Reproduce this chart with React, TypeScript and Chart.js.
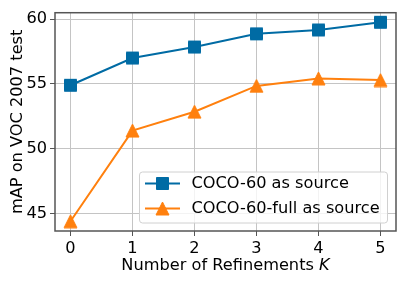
import React, { useEffect, useRef } from 'react';
import { Chart, registerables } from 'chart.js';
Chart.register(...registerables);

const refinements = [0, 1, 2, 3, 4, 5];
const coco60 = [54.9, 57.0, 57.85, 58.87, 59.17, 59.76];
const coco60full = [44.4, 51.4, 52.86, 54.85, 55.43, 55.3];
const yTicks = [45, 50, 55, 60];
const seriesLabels = ['COCO-60 as source', 'COCO-60-full as source'];
const seriesColors = ['#006BA4', '#FF800E'];
const xTitleMain = 'Number of Refinements ';
const xTitleVar = 'K';
const yTitle = 'mAP on VOC 2007 test';

const FONT = 'DejaVu Sans';
const FS = 16.2;

function makeMarker(kind: 'square' | 'triangle', color: string): HTMLCanvasElement {
  const c = document.createElement('canvas');
  c.width = 15;
  c.height = 15;
  const g = c.getContext('2d')!;
  g.fillStyle = color;
  g.strokeStyle = color;
  g.lineWidth = 1;
  g.beginPath();
  if (kind === 'square') {
    g.rect(1.5, 1.5, 12, 12);
  } else {
    g.moveTo(7.5, 1);
    g.lineTo(14, 14);
    g.lineTo(1, 14);
    g.closePath();
  }
  g.fill();
  g.stroke();
  return c;
}

export default function App() {
  const ref = useRef<HTMLCanvasElement>(null);
  useEffect(() => {
    const markers = [makeMarker('square', seriesColors[0]), makeMarker('triangle', seriesColors[1])];
    const custom = {
      id: 'custom',
      afterDraw(chart: any) {
        const { ctx, chartArea: a } = chart;
        ctx.save();
        // frame
        ctx.strokeStyle = '#555555';
        ctx.lineWidth = 1.5;
        ctx.strokeRect(a.left, a.top, a.right - a.left, a.bottom - a.top);
        // x title
        ctx.fillStyle = '#000';
        ctx.textBaseline = 'alphabetic';
        ctx.textAlign = 'left';
        const fN = `${FS}px "${FONT}"`;
        const fI = `italic ${FS}px "${FONT}"`;
        ctx.font = fN;
        const w1 = ctx.measureText(xTitleMain).width;
        ctx.font = fI;
        const w2 = ctx.measureText(xTitleVar).width;
        const cx = (a.left + a.right) / 2;
        const sx = cx - (w1 + w2) / 2;
        ctx.font = fN;
        ctx.fillText(xTitleMain, sx, 270);
        ctx.font = fI;
        ctx.fillText(xTitleVar, sx + w1, 270);
        // y title
        ctx.save();
        ctx.translate(21.5, (a.top + a.bottom) / 2);
        ctx.rotate(-Math.PI / 2);
        ctx.font = fN;
        ctx.textAlign = 'center';
        ctx.fillText(yTitle, 0, 0);
        ctx.restore();
        // legend
        const bx = 139.5, by = 172, bw = 248, bh = 51, r = 3;
        ctx.beginPath();
        ctx.moveTo(bx + r, by);
        ctx.arcTo(bx + bw, by, bx + bw, by + bh, r);
        ctx.arcTo(bx + bw, by + bh, bx, by + bh, r);
        ctx.arcTo(bx, by + bh, bx, by, r);
        ctx.arcTo(bx, by, bx + bw, by, r);
        ctx.closePath();
        ctx.fillStyle = 'rgba(255,255,255,0.8)';
        ctx.fill();
        ctx.strokeStyle = '#d0d0d0';
        ctx.lineWidth = 1;
        ctx.stroke();
        const rows = [183.5, 208.5];
        for (let i = 0; i < 2; i++) {
          const y = rows[i];
          ctx.strokeStyle = seriesColors[i];
          ctx.lineWidth = 2;
          ctx.beginPath();
          ctx.moveTo(145, y);
          ctx.lineTo(180, y);
          ctx.stroke();
          const m = markers[i];
          ctx.drawImage(m, 162.5 - m.width / 2, y - m.height / 2);
          ctx.fillStyle = '#000';
          ctx.font = fN;
          ctx.textAlign = 'left';
          ctx.textBaseline = 'middle';
          ctx.fillText(seriesLabels[i], 191.5, y);
        }
        ctx.restore();
      },
    };
    const chart = new Chart(ref.current!, {
      type: 'line',
      data: {
        datasets: [coco60, coco60full].map((vals, i) => ({
          label: seriesLabels[i],
          data: refinements.map((x, j) => ({ x, y: vals[j] })),
          borderColor: seriesColors[i],
          backgroundColor: seriesColors[i],
          borderWidth: 2,
          pointStyle: markers[i] as any,
          pointRadius: 7,
          tension: 0,
        })),
      },
      options: {
        responsive: false,
        animation: false,
        events: [],
        layout: { padding: { top: 11, right: 11, left: 0, bottom: 0 } },
        plugins: { legend: { display: false }, tooltip: { enabled: false } },
        scales: {
          x: {
            type: 'linear',
            min: -0.25,
            max: 5.25,
            afterBuildTicks: (s: any) => {
              s.ticks = refinements.map((v) => ({ value: v }));
            },
            afterFit: (s: any) => {
              s.height = 51;
            },
            grid: { color: '#c4c4c4', lineWidth: 1, tickLength: 5, tickColor: '#555555' },
            border: { display: false },
            ticks: { font: { family: FONT, size: FS }, color: '#000', padding: 3, maxRotation: 0 },
          },
          y: {
            type: 'linear',
            min: 43.65,
            max: 60.5,
            afterBuildTicks: (s: any) => {
              s.ticks = yTicks.map((v) => ({ value: v }));
            },
            afterFit: (s: any) => {
              s.width = 55;
            },
            grid: { color: '#c4c4c4', lineWidth: 1, tickLength: 5, tickColor: '#555555' },
            border: { display: false },
            ticks: { font: { family: FONT, size: FS }, color: '#000', padding: 3 },
          },
        },
      },
      plugins: [custom],
    });
    return () => chart.destroy();
  }, []);
  return (
    <div style={{ position: 'fixed', left: 0, top: 0, width: 407, height: 282, background: '#fff' }}>
      <canvas ref={ref} width={407} height={282} />
    </div>
  );
}
